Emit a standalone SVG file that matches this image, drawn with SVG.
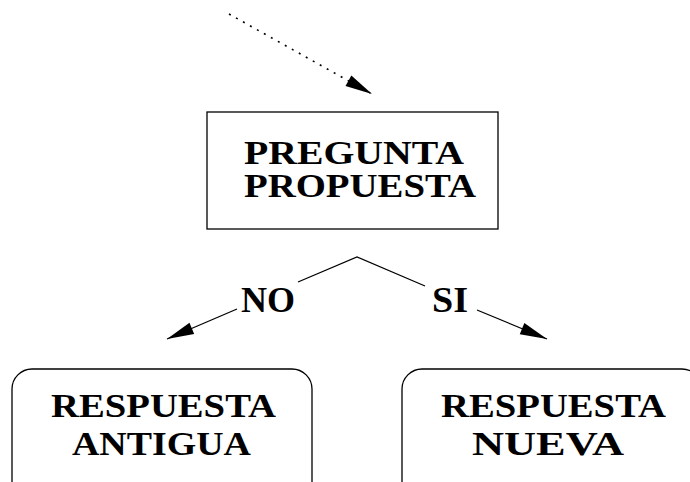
<svg xmlns="http://www.w3.org/2000/svg" width="690" height="482" viewBox="0 0 690 482">
<style>
.box{fill:#fff;stroke:#000;stroke-width:1.3}
.t{font-family:"Liberation Serif","Times New Roman",serif;font-weight:bold;font-size:34px;fill:#000}
.lbl{font-family:"Liberation Serif","Times New Roman",serif;font-weight:bold;font-size:36px;fill:#000}
.c{fill:none;stroke:#000;stroke-width:1.3}
.dot{stroke-dasharray:2 6;stroke-width:1.6}
</style>
<defs>
<marker id="ah" markerUnits="userSpaceOnUse" markerWidth="30" markerHeight="14" viewBox="0 0 28 14" refX="27" refY="7" orient="auto">
<path d="M0,1 L27,7 L0,13 z" fill="#000"/>
</marker>
</defs>
<rect width="690" height="482" fill="#fff"/>
<g id="connectors">
<path class="c dot" d="M229,14 L372,94" marker-end="url(#ah)"/>
<path class="c" d="M298,282 L357,257 L425,286"/>
<path class="c" d="M237,309 L167,339" marker-end="url(#ah)"/>
<path class="c" d="M477,310 L547,339" marker-end="url(#ah)"/>
<text class="lbl" x="241" y="312" textLength="54" lengthAdjust="spacingAndGlyphs">NO</text>
<text class="lbl" x="432" y="312" textLength="36" lengthAdjust="spacingAndGlyphs">SI</text>
</g>
<g id="pregunta">
<rect class="box" x="207" y="112" width="291" height="117"/>
<text class="t" x="244" y="164" textLength="220" lengthAdjust="spacingAndGlyphs">PREGUNTA</text>
<text class="t" x="244" y="197" textLength="232" lengthAdjust="spacingAndGlyphs">PROPUESTA</text>
</g>
<g id="antigua">
<rect class="box" x="12" y="369" width="300" height="140" rx="20" ry="20"/>
<text class="t" x="51" y="417" textLength="225" lengthAdjust="spacingAndGlyphs">RESPUESTA</text>
<text class="t" x="72" y="455" textLength="179" lengthAdjust="spacingAndGlyphs">ANTIGUA</text>
</g>
<g id="nueva">
<rect class="box" x="402" y="369" width="300" height="140" rx="20" ry="20"/>
<text class="t" x="441" y="417" textLength="225" lengthAdjust="spacingAndGlyphs">RESPUESTA</text>
<text class="t" x="472" y="455" textLength="152" lengthAdjust="spacingAndGlyphs">NUEVA</text>
</g>
</svg>
